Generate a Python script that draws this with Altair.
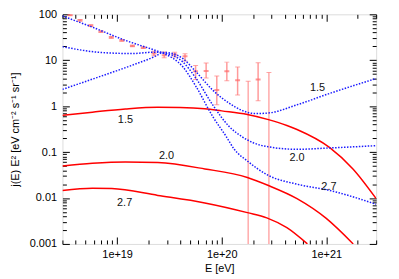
import altair as alt
import pandas as pd

W, H = 317, 232
FONT = "Liberation Sans"

# ---------------- model curves: E [eV] and j(E) E^2 ----------------
red15_E = [3e18, 5.8e18, 1.2e19, 2.45e19, 4.0e19, 6.9e19, 1.0e20, 1.76e20, 2.8e20, 4.2e20, 5.25e20, 1.08e21, 1.8e21, 3.0e21]
red15_v = [0.63, 0.74, 0.87, 0.95, 0.94, 0.88, 0.79, 0.66, 0.51, 0.38, 0.31, 0.125, 0.043, 0.0097]

red20_E = [3e18, 5.8e18, 1.2e19, 2.45e19, 6.9e19, 1.76e20, 2.8e20, 5.25e20, 1.0e21, 1.81e21]
red20_v = [0.050, 0.057, 0.061, 0.059, 0.043, 0.028, 0.0187, 0.0097, 0.0036, 0.001]

red27_E = [3e18, 5.8e18, 8.9e18, 2.45e19, 6.9e19, 1.76e20, 2.7e20, 4.2e20, 6.6e20]
red27_v = [0.0146, 0.0164, 0.0161, 0.0114, 0.0078, 0.0048, 0.0037, 0.00226, 0.001]

blue15_E = [3e18, 6.7e18, 1.38e19, 2.3e19, 2.76e19, 3.4e19, 4.27e19, 5.7e19, 8.2e19, 1.18e20, 1.58e20, 2.1e20, 2.8e20, 5.25e20, 1.09e21, 3e21]
blue15_v = [2.32, 4.34, 7.73, 12.1, 14.8, 14.0, 10.8, 5.55, 2.24, 1.16, 0.80, 0.69, 0.71, 1.07, 1.91, 4.0]

blue20_E = [3e18, 6.7e18, 1.38e19, 2.3e19, 2.76e19, 4.27e19, 5.7e19, 8.2e19, 1.18e20, 1.5e20, 2.0e20, 2.8e20, 5.25e20, 1.08e21, 3e21]
blue20_v = [19.8, 14.9, 14.0, 15.0, 14.5, 9.1, 4.0, 1.07, 0.36, 0.23, 0.16, 0.13, 0.115, 0.123, 0.138]

blue27_E = [3e18, 5.8e18, 1.2e19, 2.3e19, 2.76e19, 4.27e19, 5.7e19, 8.2e19, 1.1e20, 1.32e20, 1.76e20, 2.8e20, 5.25e20, 1.08e21, 3e21]
blue27_v = [92, 52.5, 27.1, 16.5, 14.2, 7.1, 2.64, 0.597, 0.222, 0.115, 0.064, 0.031, 0.020, 0.0146, 0.0073]

# ---------------- measured points with error bars ----------------
pts_E = [3.55e18, 4.42e18, 5.6e18, 7.0e18, 8.8e18, 1.11e19, 1.40e19, 1.78e19, 2.25e19, 2.82e19,
         3.55e19, 4.46e19, 5.63e19, 7.1e19, 8.98e19, 1.12e20, 1.42e20, 1.79e20, 2.23e20, 2.83e20]
pts_v = [97, 74, 57, 42, 31.4, 27.0, 20.5, 18.8, 14.0, 12.9,
         13.3, 12.2, 5.74, 5.83, 2.24, 5.74, 3.68, None, 3.81, None]
pts_lo = [93, 71, 54.5, 40.2, 30.0, 25.8, 19.6, 18.0, 12.5, 11.3,
          11.8, 9.6, 3.8, 4.1, 1.07, 3.56, 1.75, 1e-4, 1.32, 1e-4]
pts_hi = [101, 77, 59.5, 43.8, 32.8, 28.2, 21.4, 19.6, 15.7, 15.2,
          15.0, 13.8, 7.7, 8.7, 4.55, 9.1, 7.1, 3.5, 8.8, 5.4]

# ---------------- curve labels ----------------
lab_E = [1.2e19, 2.97e19, 1.18e19, 8.26e20, 5.25e20, 1.06e21]
lab_v = [0.507, 0.0813, 0.00792, 2.44, 0.0725, 0.0177]
lab_t = ["1.5", "2.0", "2.7", "1.5", "2.0", "2.7"]

x_ticks = [m * 10.0 ** e for e in (18, 19, 20, 21) for m in range(1, 10) if 3e18 <= m * 10.0 ** e <= 3e21]
y_ticks = [m * 10.0 ** e for e in (-3, -2, -1, 0, 1, 2) for m in range(1, 10) if m * 10.0 ** e <= 100.0001]


def frame(E, v, name):
    return pd.DataFrame({"E": E, "v": v, "s": name})


curves_red = pd.concat([frame(red15_E, red15_v, "r15"), frame(red20_E, red20_v, "r20"),
                        frame(red27_E, red27_v, "r27")])
curves_blue = pd.concat([frame(blue15_E, blue15_v, "b15"), frame(blue20_E, blue20_v, "b20"),
                         frame(blue27_E, blue27_v, "b27")])
pts = pd.DataFrame({"E": pts_E, "v": pts_v, "lo": pts_lo, "hi": pts_hi})
labs = pd.DataFrame({"E": lab_E, "v": lab_v, "t": lab_t})

xs = alt.Scale(type="log", domain=[3e18, 3e21], nice=False)
ys = alt.Scale(type="log", domain=[1e-3, 1e2], nice=False)

major_test = "abs(log(datum.value)/LN10 - round(log(datum.value)/LN10)) < 0.001"
tick_len = {"condition": {"test": major_test, "value": 7}, "value": 4}


def tick_axis(orient, offset, values):
    return alt.Axis(orient=orient, offset=offset, values=values, labels=False, title=None,
                    domain=False, grid=False, ticks=True, tickColor="black", tickWidth=1,
                    tickSize=tick_len)


x_main = alt.Axis(orient="bottom", values=[1e19, 1e20, 1e21], format=".0e", ticks=False,
                  domain=False, grid=False, labelPadding=5, labelFont=FONT, labelFontSize=11,
                  labelColor="black", title="E [eV]", titleFont=FONT, titleFontSize=11,
                  titleFontWeight="normal", titleColor="black", titlePadding=3)
y_main = alt.Axis(orient="left", values=[1e-3, 1e-2, 1e-1, 1, 10, 100], format="~g", ticks=False,
                  domain=False, grid=False, labelPadding=6, labelFont=FONT, labelFontSize=11,
                  labelColor="black", title="j(E) E² [eV cm⁻² s⁻¹ sr⁻¹]", titleFont=FONT,
                  titleFontSize=11, titleFontWeight="normal", titleColor="black", titlePadding=9)

bars_short = alt.Chart(pts).transform_filter("isValid(datum.v)").mark_rule(
    color="#ff9a9a", strokeWidth=1.5, clip=True).encode(
    x=alt.X("E:Q", scale=xs, axis=tick_axis("bottom", -H, x_ticks)),
    y=alt.Y("lo:Q", scale=ys, axis=tick_axis("left", -W, y_ticks)),
    y2="hi:Q")
bars_long = alt.Chart(pts).transform_filter("!isValid(datum.v)").mark_rule(
    color="#ff8080", strokeWidth=1, clip=True).encode(
    x=alt.X("E:Q", scale=xs, axis=None), y=alt.Y("lo:Q", scale=ys, axis=None), y2="hi:Q")
caps_hi = alt.Chart(pts).mark_tick(orient="horizontal", size=5, thickness=1, color="#ff8080",
                                   clip=True).encode(
    x=alt.X("E:Q", scale=xs, axis=None), y=alt.Y("hi:Q", scale=ys, axis=None))
caps_lo = alt.Chart(pts).mark_tick(orient="horizontal", size=5, thickness=1, color="#ff8080",
                                   clip=True).encode(
    x=alt.X("E:Q", scale=xs, axis=None), y=alt.Y("lo:Q", scale=ys, axis=None))
centers = alt.Chart(pts).transform_filter("isValid(datum.v)").mark_tick(
    orient="horizontal", size=5, thickness=2, color="#ff6a6a", clip=True).encode(
    x=alt.X("E:Q", scale=xs, axis=None), y=alt.Y("v:Q", scale=ys, axis=None))

red = alt.Chart(curves_red).mark_line(color="#ff0000", strokeWidth=1.5, interpolate="monotone",
                                      clip=True).encode(
    x=alt.X("E:Q", scale=xs, axis=x_main), y=alt.Y("v:Q", scale=ys, axis=y_main), detail="s:N")
blue = alt.Chart(curves_blue).mark_line(color="#1a1aff", strokeWidth=1.5, strokeDash=[1.5, 1.5],
                                        interpolate="monotone", clip=True).encode(
    x=alt.X("E:Q", scale=xs, axis=tick_axis("top", -H, x_ticks)),
    y=alt.Y("v:Q", scale=ys, axis=tick_axis("right", -W, y_ticks)), detail="s:N")
texts = alt.Chart(labs).mark_text(font=FONT, fontSize=11, color="#111111", align="center",
                                  baseline="middle").encode(
    x=alt.X("E:Q", scale=xs, axis=None), y=alt.Y("v:Q", scale=ys, axis=None), text="t:N")

chart = alt.layer(bars_short, bars_long, caps_hi, caps_lo, centers, red, blue, texts).resolve_axis(
    x="independent", y="independent").properties(
    width=W, height=H,
    autosize=alt.AutoSizeParams(type="none"),
    padding={"left": 55, "top": 5, "right": 15, "bottom": 30},
).configure_view(stroke="black", strokeWidth=1).configure(background="white")

chart.save("out.html", embed_options={"renderer": "svg", "actions": False})
